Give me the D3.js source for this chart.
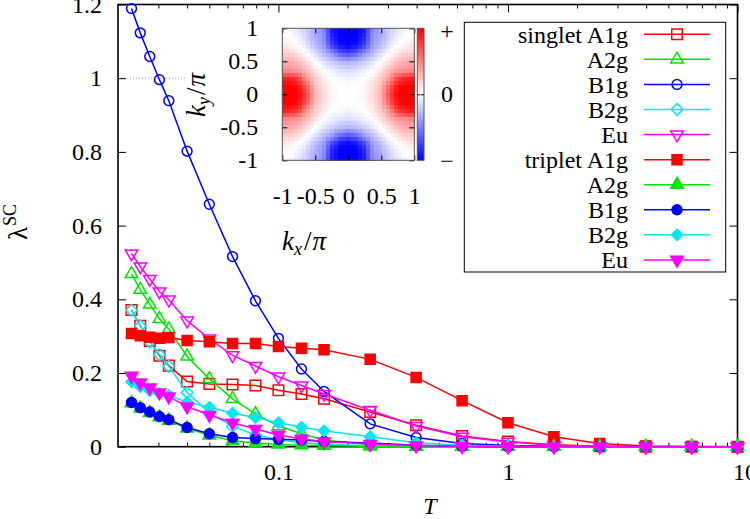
<!DOCTYPE html>
<html><head><meta charset="utf-8">
<script src="https://cdn.jsdelivr.net/npm/d3@7"></script>
<style>
body{margin:0;background:#fff}
svg{display:block}
svg text{font-family:"Liberation Serif","Tinos","Times New Roman","DejaVu Serif",serif !important;fill:#000}
</style>
</head><body>
<svg id="c" width="750" height="519" font-family="Liberation Serif"></svg>
<script>
// ---------------- data ----------------
const T = [0.0229, 0.025, 0.0275, 0.0303, 0.0333, 0.04, 0.05, 0.0631, 0.0794, 0.1, 0.126, 0.158, 0.251, 0.398, 0.631, 1, 1.585, 2.51, 3.98, 6.31, 10];

const singletA1g = [0.371, 0.328, 0.287, 0.247, 0.220, 0.177, 0.170, 0.169, 0.166, 0.153, 0.143, 0.130, 0.094, 0.058, 0.029, 0.014, 0.005, 0.001, 0, 0, 0];
const singletA2g = [0.469, 0.426, 0.386, 0.347, 0.319, 0.245, 0.184, 0.130, 0.089, 0.056, 0.035, 0.018, 0.005, 0.001, 0, 0, 0, 0, 0, 0, 0];
const singletB1g = [1.189, 1.123, 1.059, 0.996, 0.939, 0.802, 0.658, 0.516, 0.396, 0.294, 0.211, 0.150, 0.062, 0.025, 0.009, 0.003, 0.001, 0, 0, 0, 0];
const singletB2g = [0.370, 0.328, 0.284, 0.250, 0.218, 0.147, 0.092, 0.055, 0.032, 0.019, 0.011, 0.007, 0.002, 0.001, 0, 0, 0, 0, 0, 0, 0];
const singletEu  = [0.524, 0.489, 0.455, 0.421, 0.399, 0.342, 0.293, 0.248, 0.219, 0.190, 0.166, 0.143, 0.099, 0.056, 0.027, 0.013, 0.004, 0.001, 0, 0, 0];
const tripletA1g = [0.307, 0.301, 0.297, 0.294, 0.296, 0.288, 0.285, 0.280, 0.280, 0.272, 0.267, 0.263, 0.237, 0.188, 0.125, 0.065, 0.027, 0.009, 0.002, 0.0005, 0];
const tripletA2g = [0.118, 0.104, 0.092, 0.080, 0.071, 0.050, 0.031, 0.016, 0.010, 0.006, 0.004, 0.003, 0.001, 0, 0, 0, 0, 0, 0, 0, 0];
const tripletB1g = [0.120, 0.106, 0.094, 0.082, 0.073, 0.052, 0.035, 0.025, 0.022, 0.020, 0.018, 0.014, 0.010, 0.004, 0.001, 0, 0, 0, 0, 0, 0];
const tripletB2g = [0.176, 0.163, 0.152, 0.145, 0.139, 0.121, 0.107, 0.091, 0.079, 0.065, 0.053, 0.043, 0.027, 0.011, 0.004, 0.001, 0, 0, 0, 0, 0];
const tripletEu  = [0.192, 0.174, 0.160, 0.147, 0.136, 0.109, 0.086, 0.065, 0.048, 0.032, 0.021, 0.014, 0.007, 0.003, 0.001, 0, 0, 0, 0, 0, 0];

const seriesNames  = ["singlet A1g", "A2g", "B1g", "B2g", "Eu", "triplet A1g", "A2g", "B1g", "B2g", "Eu"];
const seriesValues = [singletA1g, singletA2g, singletB1g, singletB2g, singletEu, tripletA1g, tripletA2g, tripletB1g, tripletB2g, tripletEu];
const seriesColors = ["#ff0000", "#00e600", "#0000ff", "#00e8f0", "#ff00ff", "#ff0000", "#00e600", "#0000ff", "#00e8f0", "#ff00ff"];
const seriesShapes = ["square", "triangle", "circle", "diamond", "itriangle", "square", "triangle", "circle", "diamond", "itriangle"];
const seriesFilled = [false, false, false, false, false, true, true, true, true, true];

const yTicks = [0, 0.2, 0.4, 0.6, 0.8, 1, 1.2];
const xTicks = [0.1, 1, 10];
const xMinorTicks = [0.03,0.04,0.05,0.06,0.07,0.08,0.09,0.2,0.3,0.4,0.5,0.6,0.7,0.8,0.9,2,3,4,5,6,7,8,9];
const insetTicks = [-1, -0.5, 0, 0.5, 1];
const colorbarLabels = ["+", "0", "\u2212"];
// gap function on the quadrant |kx|,|ky| = 0..1 in steps of 1/8 (rows: ky, cols: kx), colour scale -1..1
const gapQuadrant = [
  [ 0.00,  0.01,  0.05,  0.15,  0.30,  0.70,  1.00,  1.00,  1.00],
  [-0.01,  0.00,  0.03,  0.12,  0.27,  0.62,  0.95,  1.00,  1.00],
  [-0.05, -0.03,  0.00,  0.07,  0.20,  0.40,  0.75,  0.85,  0.90],
  [-0.15, -0.12, -0.07,  0.00,  0.10,  0.27,  0.38,  0.42,  0.45],
  [-0.30, -0.27, -0.20, -0.10,  0.00,  0.12,  0.27,  0.33,  0.35],
  [-0.70, -0.62, -0.40, -0.27, -0.12,  0.00,  0.10,  0.18,  0.20],
  [-1.00, -0.95, -0.75, -0.38, -0.27, -0.10,  0.00,  0.06,  0.10],
  [-1.00, -1.00, -0.85, -0.42, -0.33, -0.18, -0.06,  0.00,  0.03],
  [-1.00, -1.00, -0.90, -0.45, -0.35, -0.20, -0.10, -0.03,  0.00]
];

// ---------------- layout ----------------
const FONT = '"Liberation Serif", serif';
const svg = d3.select("#c");
const L = 118, R = 737.5, TOP = 4.5, B = 446.7;
const x = d3.scaleLog().domain([0.02, 10]).range([L, R]);
const y = d3.scaleLinear().domain([0, 1.2]).range([B, TOP]);
const FS = 24;
const fmt = d => String(d);

// dotted reference line at lambda = 1
svg.append("line").attr("x1", L).attr("x2", 187).attr("y1", y(1)).attr("y2", y(1))
  .attr("stroke", "#999").attr("stroke-width", 1).attr("stroke-dasharray", "1,2");

// axes
function styleAxis(g){ g.attr("font-family", FONT); g.select(".domain").remove(); g.selectAll("line").attr("stroke","#000").attr("stroke-width",1);
  g.selectAll("text").attr("font-size",FS).attr("font-family",FONT); }
svg.append("g").attr("transform",`translate(${L},0)`)
  .call(d3.axisLeft(y).tickValues(yTicks).tickFormat(fmt).tickSizeInner(-8).tickSizeOuter(0).tickPadding(16))
  .call(styleAxis);
svg.append("g").attr("transform",`translate(${R},0)`)
  .call(d3.axisRight(y).tickValues(yTicks).tickFormat("").tickSizeInner(-8).tickSizeOuter(0))
  .call(styleAxis);
const xb = svg.append("g").attr("transform",`translate(0,${B})`)
  .call(d3.axisBottom(x).tickValues(xTicks).tickFormat(fmt).tickSizeInner(-8).tickSizeOuter(0).tickPadding(16))
  .call(styleAxis);
xb.selectAll("text").filter(d => d === 10).attr("dx", 7);
svg.append("g").attr("transform",`translate(0,${B})`)
  .call(d3.axisBottom(x).tickValues(xMinorTicks).tickFormat("").tickSizeInner(-4).tickSizeOuter(0)).call(styleAxis);
svg.append("g").attr("transform",`translate(0,${TOP})`)
  .call(d3.axisTop(x).tickValues(xTicks).tickFormat("").tickSizeInner(-8).tickSizeOuter(0)).call(styleAxis);
svg.append("g").attr("transform",`translate(0,${TOP})`)
  .call(d3.axisTop(x).tickValues(xMinorTicks).tickFormat("").tickSizeInner(-4).tickSizeOuter(0)).call(styleAxis);

// frame
svg.append("rect").attr("x", L).attr("y", TOP).attr("width", R - L).attr("height", B - TOP)
  .attr("fill", "none").attr("stroke", "#000").attr("stroke-width", 1.6);

// axis labels
const yl = svg.append("text").attr("transform", "translate(27,222) rotate(-90)").attr("text-anchor", "middle").attr("font-family", FONT);
yl.append("tspan").attr("font-size", 27).text("\u03bb");
yl.append("tspan").attr("font-size", 18).attr("dy", -11).attr("dx", 1).text("SC");
svg.append("text").attr("x", 430).attr("y", 514).attr("text-anchor", "middle").attr("font-family", FONT)
  .attr("font-size", FS).attr("font-style", "italic").text("T");

// marker generator
function markerPath(shape, filled){
  switch(shape){
    case "square":   return d3.symbol(d3.symbolSquare, filled ? 100 : 112)();
    case "circle":   return d3.symbol(d3.symbolCircle, filled ? 78 : 76)();
    case "triangle": return d3.symbol(d3.symbolTriangle, 68)();
    case "itriangle":return d3.symbol(d3.symbolTriangle, 68)();
    case "diamond":  return d3.symbol(d3.symbolSquare, filled ? 62 : 68)();
  }
}
function markerRot(shape){ return shape === "itriangle" ? 180 : (shape === "diamond" ? 45 : 0); }

// series
const line = d3.line().x((d, i) => x(T[i])).y(d => y(d));
const plot = svg.append("g");
seriesValues.forEach((vals, s) => {
  const g = plot.append("g");
  g.append("path").attr("d", line(vals)).attr("fill", "none")
    .attr("stroke", seriesColors[s]).attr("stroke-width", 1.5);
  g.selectAll("path.m").data(vals).enter().append("path").attr("class", "m")
    .attr("d", markerPath(seriesShapes[s], seriesFilled[s]))
    .attr("transform", (d, i) => `translate(${x(T[i])},${y(d)}) rotate(${markerRot(seriesShapes[s])})`)
    .attr("fill", seriesFilled[s] ? seriesColors[s] : "none")
    .attr("stroke", seriesColors[s]).attr("stroke-width", 1.5);
});

// legend
const LX0 = 464.3, LY0 = 22.3, LX1 = 725.7, LY1 = 272;
svg.append("rect").attr("x", LX0).attr("y", LY0).attr("width", LX1 - LX0).attr("height", LY1 - LY0)
  .attr("fill", "#fff").attr("stroke", "#000").attr("stroke-width", 1);
seriesNames.forEach((name, s) => {
  const cy = 34.3 + s * 25.07;
  svg.append("text").attr("x", 628).attr("y", cy + 8.5).attr("text-anchor", "end")
    .attr("font-family", FONT).attr("font-size", FS).text(name);
  svg.append("line").attr("x1", 644).attr("x2", 710).attr("y1", cy).attr("y2", cy)
    .attr("stroke", seriesColors[s]).attr("stroke-width", 1.5);
  svg.append("path").attr("d", markerPath(seriesShapes[s], seriesFilled[s]))
    .attr("transform", `translate(677,${cy}) rotate(${markerRot(seriesShapes[s])})`)
    .attr("fill", seriesFilled[s] ? seriesColors[s] : "none")
    .attr("stroke", seriesColors[s]).attr("stroke-width", 1.5);
});

// ---------------- inset ----------------
const IX0 = 282.3, IX1 = 414.3, IY0 = 28.3, IY1 = 160.3;
const kx = d3.scaleLinear().domain([-1, 1]).range([IX0, IX1]);
const ky = d3.scaleLinear().domain([-1, 1]).range([IY1, IY0]);
const colorOf = v => {
  v = Math.max(-1, Math.min(1, v));
  return v >= 0 ? d3.rgb(255, 255 * (1 - v), 255 * (1 - v)) : d3.rgb(255 * (1 + v), 255 * (1 + v), 255);
};
function gapAt(a, b){ // a=|kx|, b=|ky| in 0..1
  const fi = a * 8, fj = b * 8;
  const i0 = Math.min(7, Math.floor(fi)), j0 = Math.min(7, Math.floor(fj));
  const ti = fi - i0, tj = fj - j0;
  const q = gapQuadrant;
  return (1 - tj) * ((1 - ti) * q[j0][i0] + ti * q[j0][i0 + 1]) + tj * ((1 - ti) * q[j0 + 1][i0] + ti * q[j0 + 1][i0 + 1]);
}
const N = 33, cells = [];
for (let m = 0; m < N; m++) for (let n = 0; n < N; n++) {
  const kxv = -1 + (m + 0.5) * 2 / N, kyv = -1 + (n + 0.5) * 2 / N;
  cells.push({m, n, v: gapAt(Math.abs(kxv), Math.abs(kyv))});
}
const cw = (IX1 - IX0) / N;
svg.append("g").selectAll("rect").data(cells).enter().append("rect")
  .attr("x", d => IX0 + d.m * cw).attr("y", d => IY1 - (d.n + 1) * cw)
  .attr("width", cw + 0.3).attr("height", cw + 0.3)
  .attr("fill", d => colorOf(d.v)).attr("shape-rendering", "crispEdges");

// inset ticks (inside, mirrored)
function insetStyle(g){ g.attr("font-family", FONT); g.select(".domain").remove(); g.selectAll("line").attr("stroke", "#000").attr("stroke-width", 1);
  g.selectAll("text").attr("font-size", FS).attr("font-family", FONT); }
svg.append("g").attr("transform", `translate(0,${IY1})`)
  .call(d3.axisBottom(kx).tickValues(insetTicks).tickFormat(fmt).tickSizeInner(-5).tickSizeOuter(0).tickPadding(27))
  .call(insetStyle);
svg.append("g").attr("transform", `translate(0,${IY0})`)
  .call(d3.axisTop(kx).tickValues(insetTicks).tickFormat("").tickSizeInner(-5).tickSizeOuter(0)).call(insetStyle);
svg.append("g").attr("transform", `translate(${IX0},0)`)
  .call(d3.axisLeft(ky).tickValues(insetTicks).tickFormat(fmt).tickSizeInner(-5).tickSizeOuter(0).tickPadding(24))
  .call(insetStyle);
svg.append("g").attr("transform", `translate(${IX1},0)`)
  .call(d3.axisRight(ky).tickValues(insetTicks).tickFormat("").tickSizeInner(-5).tickSizeOuter(0)).call(insetStyle);
svg.append("rect").attr("x", IX0).attr("y", IY0).attr("width", IX1 - IX0).attr("height", IY1 - IY0)
  .attr("fill", "none").attr("stroke", "#555").attr("stroke-width", 1);

// colour bar
const grad = svg.append("defs").append("linearGradient").attr("id", "cb").attr("x1", 0).attr("x2", 0).attr("y1", 0).attr("y2", 1);
[[0, "#ff0000"], [0.5, "#ffffff"], [1, "#0000ff"]].forEach(([o, c]) => grad.append("stop").attr("offset", o).attr("stop-color", c));
const CBX0 = 417.3, CBX1 = 424;
svg.append("rect").attr("x", CBX0).attr("y", IY0).attr("width", CBX1 - CBX0).attr("height", IY1 - IY0)
  .attr("fill", "url(#cb)").attr("stroke", "#555").attr("stroke-width", 1);
const cbScale = d3.scaleLinear().domain([-1, 1]).range([IY1, IY0]);
svg.append("g").attr("transform", `translate(${CBX1},0)`)
  .call(d3.axisRight(cbScale).tickValues([0]).tickFormat("").tickSizeInner(-3).tickSizeOuter(0)).call(insetStyle);
svg.append("g").attr("transform", `translate(${CBX0},0)`)
  .call(d3.axisLeft(cbScale).tickValues([0]).tickFormat("").tickSizeInner(-3).tickSizeOuter(0)).call(insetStyle);
[1, 0, -1].forEach((v, i) => {
  svg.append("text").attr("x", 447).attr("y", cbScale(v) + (i === 0 ? 11 : (i === 1 ? 8 : 9)))
    .attr("text-anchor", "middle").attr("font-family", FONT).attr("font-size", FS).text(colorbarLabels[i]);
});

// inset axis labels
const kxl = svg.append("text").attr("x", 304).attr("y", 250).attr("text-anchor", "middle").attr("font-family", FONT).attr("font-size", 27);
kxl.append("tspan").attr("font-style", "italic").text("k");
kxl.append("tspan").attr("font-style", "italic").attr("font-size", 18).attr("dy", 5).text("x");
kxl.append("tspan").attr("dy", -5).attr("dx", 2).text("/");
kxl.append("tspan").attr("font-style", "italic").attr("dx", 1).text("\u03c0");
const kyl = svg.append("text").attr("transform", "translate(205,95) rotate(-90)").attr("text-anchor", "middle").attr("font-family", FONT).attr("font-size", 27);
kyl.append("tspan").attr("font-style", "italic").text("k");
kyl.append("tspan").attr("font-style", "italic").attr("font-size", 18).attr("dy", 5).text("y");
kyl.append("tspan").attr("dy", -5).attr("dx", 2).text("/");
kyl.append("tspan").attr("font-style", "italic").attr("dx", 1).text("\u03c0");
</script>
</body></html>
